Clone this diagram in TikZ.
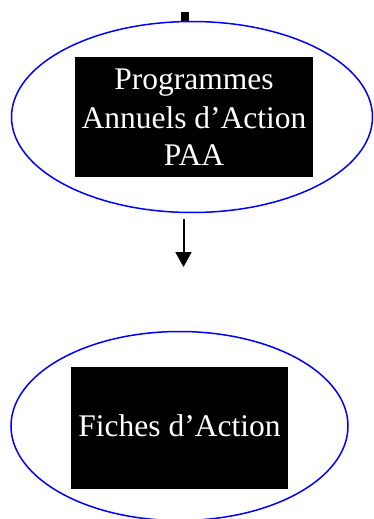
\documentclass[tikz,border=0pt]{standalone}
\usepackage{fontspec}
\setmainfont{Liberation Serif}
\usetikzlibrary{shapes.geometric,arrows.meta}
\tikzset{
  bulle/.style={ellipse,draw=blue,line width=1.5pt,inner sep=0pt},
  cadre/.style={fill=black,text=white,align=center,inner sep=0pt,
    font=\fontsize{31.5}{37}\selectfont},
}
\begin{document}
\begin{tikzpicture}[x=1pt,y=-1pt]
   \useasboundingbox (0,0) rectangle (374,519);
   % trait du haut
   \coordinate (haut) at (185,12);
   \coordinate (hautbas) at (185,22);
   \draw[line width=8pt] (haut) -- (hautbas);
   % programmes annuels
   \node[bulle,minimum width=361pt,minimum height=191pt] (paa) at (192,117) {};
   \node[cadre,minimum width=238pt,minimum height=120pt] (paatxt) at (194,117)
     {\raisebox{2pt}{Programmes}\\Annuels d’Action\\PAA};
   % fiches d'action
   \node[bulle,minimum width=337pt,minimum height=189pt] (fiches) at (179.5,426) {};
   \node[cadre,minimum width=217pt,minimum height=122pt] (fichestxt) at (179.5,428)
     {\raisebox{5pt}{Fiches d’Action}};
   % fleche
   \coordinate (depart) at (183.5,219);
   \coordinate (fin) at (183.5,267);
   \draw[line width=2pt,-{Triangle[width=16pt,length=15pt]}] (depart) -- (fin);
\end{tikzpicture}
\end{document}
